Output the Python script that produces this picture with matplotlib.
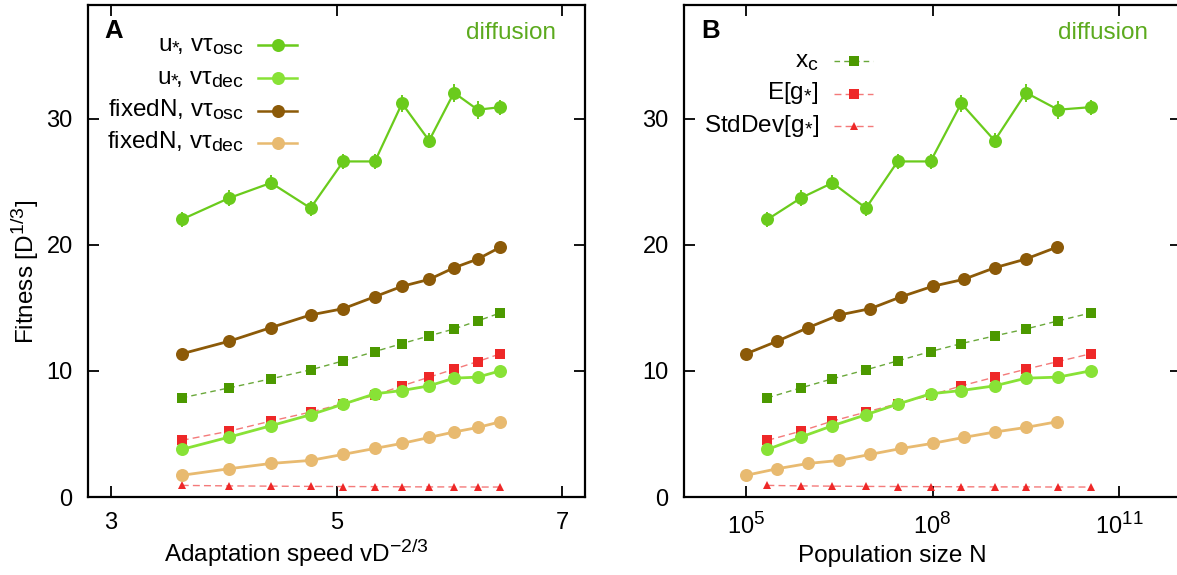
import matplotlib
matplotlib.use("Agg")
import matplotlib.pyplot as plt
import matplotlib._mathtext as _mathtext
from matplotlib.ticker import FixedLocator, NullLocator

plt.rcParams["font.family"] = ["Liberation Sans", "DejaVu Sans"]
plt.rcParams["mathtext.fontset"] = "custom"
plt.rcParams["mathtext.rm"] = "Liberation Sans"
plt.rcParams["mathtext.it"] = "Liberation Sans:italic"
plt.rcParams["mathtext.bf"] = "Liberation Sans:bold"
# slightly larger sub/superscripts than the mathtext default
_mathtext.SHRINK_FACTOR = 0.8

# ---- data -------------------------------------------------------------
# adaptation speed v D^{-2/3} for each run
speed = [3.63, 4.05, 4.42, 4.77, 5.06, 5.34, 5.58, 5.82, 6.04, 6.25, 6.45]
# population sizes: fixed-N runs and the effective N of the u* runs
N_fixed = [1e5, 3.16e5, 1e6, 3.16e6, 1e7, 3.16e7, 1e8, 3.16e8, 1e9, 3.16e9, 1e10]
N_ustar = [2.2e5, 7.6e5, 2.45e6, 8.5e6, 2.75e7, 9.3e7, 2.9e8, 1.0e9, 3.2e9, 1.05e10, 3.5e10]

fit_ustar_osc = [22.0, 23.7, 24.9, 22.9, 26.6, 26.6, 31.2, 28.25, 32.05, 30.7, 30.9]
err_ustar_osc = [0.6, 0.6, 0.6, 0.6, 0.6, 0.6, 0.7, 0.6, 0.7, 0.7, 0.6]
fit_ustar_dec = [3.77, 4.75, 5.65, 6.52, 7.36, 8.18, 8.44, 8.81, 9.42, 9.50, 10.0]
fit_fixed_osc = [11.35, 12.35, 13.43, 14.43, 14.93, 15.88, 16.7, 17.25, 18.17, 18.86, 19.8]
fit_fixed_dec = [1.72, 2.24, 2.66, 2.90, 3.38, 3.85, 4.25, 4.72, 5.15, 5.51, 5.96]
x_c = [7.86, 8.65, 9.37, 10.08, 10.79, 11.53, 12.16, 12.77, 13.32, 13.96, 14.59]
mean_g = [4.49, 5.22, 6.02, 6.73, 7.40, 8.07, 8.81, 9.50, 10.13, 10.74, 11.35]
std_g = [0.92, 0.88, 0.86, 0.84, 0.83, 0.82, 0.81, 0.80, 0.80, 0.79, 0.79]

# ---- styles -----------------------------------------------------------
C_OSC = "#6acb1c"
C_DEC = "#88e236"
C_BROWN = "#8c5a08"
C_TAN = "#e8ba70"
C_XC = "#4c9900"
C_XC_LINE = "#6aa83a"
C_RED = "#ee2828"
C_RED_LINE = "#f47a7a"
C_TEXT_GREEN = "#5caa1e"

FS = 17.5      # labels, legend, annotations
FS_TICK = 17   # tick labels
PX = 72.0 / 100.0  # points per pixel at 100 dpi

circ = dict(marker="o", markersize=13 * PX, markeredgewidth=0)
sq = dict(marker="s", markersize=9.5 * PX, markeredgewidth=0)
tri = dict(marker="^", markersize=7.5 * PX, markeredgewidth=0)

STAR = r"$_{*}\!$"   # subscript star, pulled tight to a following comma
STAR_B = r"$_{*}$"   # subscript star before a bracket

fig = plt.figure(figsize=(11.77, 5.75), dpi=100)
W, H = 1177.0, 575.0
AX_H = 492.0
axA = fig.add_axes([88 / W, 1 - 497 / H, 497 / W, AX_H / H])
axB = fig.add_axes([684 / W, 1 - 497 / H, 497 / W, AX_H / H])


def style_axes(ax):
    for s in ax.spines.values():
        s.set_linewidth(1.6)
    ax.tick_params(direction="in", length=8 * PX * 1.4, width=1.3,
                   top=True, right=True, labelsize=FS_TICK, pad=11)
    ax.set_ylim(0, 39)
    ax.yaxis.set_major_locator(FixedLocator([0, 10, 20, 30]))
    ax.yaxis.set_minor_locator(NullLocator())


def draw_series(ax, xs_u, xs_f):
    ax.plot(xs_u, x_c, color=C_XC_LINE, lw=1.0, ls=(0, (4, 3)), zorder=2)
    ax.plot(xs_u, x_c, ls="none", color=C_XC, **sq, zorder=3)
    ax.plot(xs_u, mean_g, color=C_RED_LINE, lw=1.0, ls=(0, (5, 3)), zorder=2)
    ax.plot(xs_u, mean_g, ls="none", color=C_RED, **sq, zorder=3)
    ax.plot(xs_u, std_g, color=C_RED_LINE, lw=1.0, ls=(0, (5, 3)), zorder=2)
    ax.plot(xs_u, std_g, ls="none", color=C_RED, **tri, zorder=3)
    ax.errorbar(xs_u, fit_ustar_osc, yerr=err_ustar_osc, color=C_OSC, lw=1.6,
                elinewidth=1.4, capsize=0, zorder=4, **circ)
    ax.plot(xs_u, fit_ustar_dec, color=C_DEC, lw=2.0, zorder=5, **circ)
    ax.plot(xs_f, fit_fixed_osc, color=C_BROWN, lw=2.0, zorder=5, **circ)
    ax.plot(xs_f, fit_fixed_dec, color=C_TAN, lw=2.0, zorder=5, **circ)


def legend_rows(ax, entries, x_text, x0, x1, y_rows):
    # entries: (label, line kwargs, marker kwargs); text sits right-aligned
    # to the left of a short line sample with its marker in the middle
    for (label, lkw, mkw), y in zip(entries, y_rows):
        ax.plot([x0, x1], [y, y], transform=ax.transAxes, clip_on=False, **lkw)
        ax.plot([(x0 + x1) / 2], [y], transform=ax.transAxes, clip_on=False,
                ls="none", **mkw)
        ax.text(x_text, y - 6 / AX_H, label, transform=ax.transAxes,
                ha="right", va="baseline", fontsize=FS)


def place_xlabel(ax, center_px, left_px):
    ax.xaxis.set_label_coords((center_px - left_px) / 497, (497 - 562) / AX_H)
    ax.xaxis.label.set_va("baseline")


# ---- panel A ----------------------------------------------------------
style_axes(axA)
axA.set_xlim(2.8, 7.2)
axA.xaxis.set_major_locator(FixedLocator([3, 5, 7]))
axA.xaxis.set_minor_locator(NullLocator())
draw_series(axA, speed, speed)
axA.set_xlabel(r"Adaptation speed vD$^{\mathregular{-2/3}}$", fontsize=FS)
place_xlabel(axA, 296, 88)
axA.set_ylabel(r"Fitness [D$^{\mathregular{1/3}}$]", fontsize=FS)
axA.yaxis.set_label_coords((41 - 88) / 497, (497 - 272) / AX_H)
axA.text(0.032, (497 - 38) / AX_H, "A", transform=axA.transAxes, fontsize=18.5,
         fontweight="bold", ha="left", va="baseline")
axA.text((556 - 88) / 497, (497 - 39) / AX_H, "diffusion", transform=axA.transAxes,
         fontsize=FS, color=C_TEXT_GREEN, ha="right", va="baseline")

rowsA = [(497 - y) / AX_H for y in (45, 77.7, 110.5, 142.5)]
entriesA = [
    ("u" + STAR + ", vτ$_{\\mathregular{osc}}$", dict(color=C_OSC, lw=1.8),
     dict(color=C_OSC, **circ)),
    ("u" + STAR + ", vτ$_{\\mathregular{dec}}$", dict(color=C_DEC, lw=1.8),
     dict(color=C_DEC, **circ)),
    ("fixedN, vτ$_{\\mathregular{osc}}$", dict(color=C_BROWN, lw=1.8),
     dict(color=C_BROWN, **circ)),
    ("fixedN, vτ$_{\\mathregular{dec}}$", dict(color=C_TAN, lw=1.8),
     dict(color=C_TAN, **circ)),
]
legend_rows(axA, entriesA, (244 - 88) / 497, (258 - 88) / 497, (297 - 88) / 497,
            rowsA)

# ---- panel B ----------------------------------------------------------
style_axes(axB)
axB.set_xscale("log")
axB.set_xlim(1e4, 1e12)
axB.xaxis.set_major_locator(FixedLocator([1e5, 1e8, 1e11]))
axB.xaxis.set_minor_locator(NullLocator())
axB.set_xticklabels([r"$\mathregular{10^{5}}$", r"$\mathregular{10^{8}}$",
                     r"$\mathregular{10^{11}}$"])
draw_series(axB, N_ustar, N_fixed)
axB.set_xlabel("Population size N", fontsize=FS)
place_xlabel(axB, 892, 684)
axB.text((701 - 684) / 497, (497 - 38) / AX_H, "B", transform=axB.transAxes,
         fontsize=18.5, fontweight="bold", ha="left", va="baseline")
axB.text((1148 - 684) / 497, (497 - 39) / AX_H, "diffusion", transform=axB.transAxes,
         fontsize=FS, color=C_TEXT_GREEN, ha="right", va="baseline")

rowsB = [(497 - y) / AX_H for y in (61, 93.5, 126)]
entriesB = [
    ("x$_{\\mathregular{c}}$", dict(color=C_XC_LINE, lw=1.0, ls=(0, (4, 3))),
     dict(color=C_XC, **sq)),
    ("E[g" + STAR_B + "]", dict(color=C_RED_LINE, lw=1.0, ls=(0, (5, 3))),
     dict(color=C_RED, **sq)),
    ("StdDev[g" + STAR_B + "]", dict(color=C_RED_LINE, lw=1.0, ls=(0, (5, 3))),
     dict(color=C_RED, **tri)),
]
legend_rows(axB, entriesB, (819 - 684) / 497, (834 - 684) / 497, (873 - 684) / 497,
            rowsB)

fig.savefig("out.png", dpi=100)
